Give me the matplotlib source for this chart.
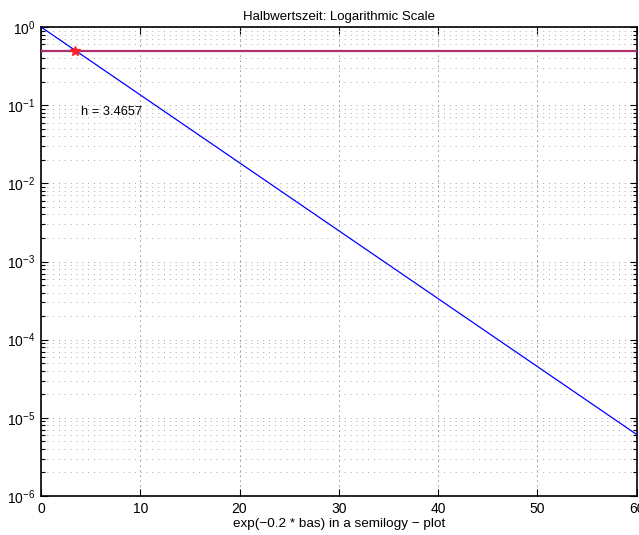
import matplotlib
matplotlib.use("Agg")
import matplotlib.pyplot as plt
from matplotlib.ticker import LogLocator, LogFormatterMathtext, NullFormatter, FixedLocator

plt.rcParams['font.family'] = ['Liberation Sans', 'DejaVu Sans']
plt.rcParams['mathtext.fontset'] = 'custom'
plt.rcParams['mathtext.rm'] = 'Liberation Sans'
plt.rcParams['mathtext.it'] = 'Liberation Sans'
plt.rcParams['mathtext.bf'] = 'Liberation Sans'

# Data
x_vals = [0, 10, 20, 30, 40, 50, 60]
y_vals = [1.0, 0.1353, 0.01832, 0.002479, 0.0003355, 4.540e-05, 6.144e-06]
half_level = 0.5
half_x = 3.4657
label_text = "h = 3.4657"
label_pos = (4.0, 0.082)
title = "Halbwertszeit: Logarithmic Scale"
xlabel = "exp(\u22120.2 * bas) in a semilogy \u2212 plot"
xticks = [0, 10, 20, 30, 40, 50, 60]

fig = plt.figure(figsize=(6.39, 5.35), dpi=100)
ax = fig.add_axes([41/639, 1 - 496/535, (636.5 - 41)/639, (496 - 27)/535])

ax.semilogy(x_vals, y_vals, color='#0000ff', lw=0.9, zorder=3)
ax.axhline(half_level, color='#b0306e', lw=1.6, zorder=4)
ax.plot([half_x], [half_level], marker='*', color='#ff2020', markersize=7.5, zorder=5, lw=0)
ax.text(label_pos[0], label_pos[1], label_text, fontsize=9.3, va='center', ha='left', zorder=6)

ax.set_xlim(0, 60)
ax.set_ylim(1e-6, 1)
ax.xaxis.set_major_locator(FixedLocator(xticks))
ax.yaxis.set_major_locator(LogLocator(base=10, numticks=10))
ax.yaxis.set_major_formatter(LogFormatterMathtext())
ax.yaxis.set_minor_locator(LogLocator(base=10, subs=range(2, 10), numticks=20))
ax.yaxis.set_minor_formatter(NullFormatter())

ax.grid(True, which='major', axis='x', color='#222222', linestyle=(0, (1, 5)), lw=0.6)
ax.grid(True, which='major', axis='y', color='#999999', linestyle=(0, (1, 5)), lw=0.7)
ax.grid(True, which='minor', axis='y', color='#aaaaaa', linestyle=(0, (1, 5)), lw=0.7)

ax.tick_params(which='both', direction='in', top=True, right=True, labelsize=10, pad=4)
ax.tick_params(which='major', length=5, width=0.8)
ax.tick_params(which='minor', length=3, width=0.8)
for s in ax.spines.values():
    s.set_linewidth(1.2)

ax.set_title(title, fontsize=9.5, pad=5)
ax.set_xlabel(xlabel, fontsize=9.7, labelpad=2)

fig.savefig("out.png", dpi=100)
